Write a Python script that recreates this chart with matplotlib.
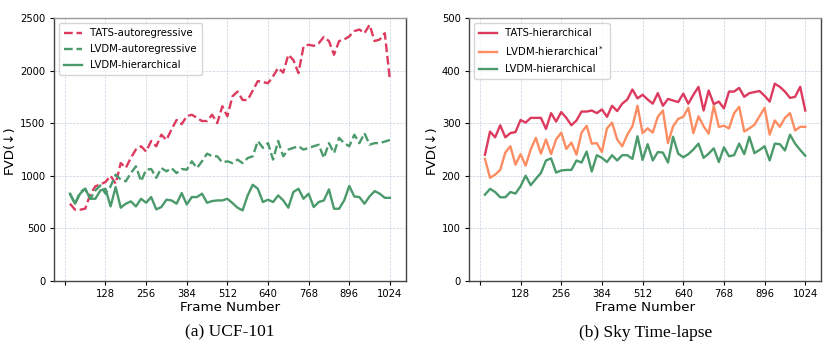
import numpy as np
import matplotlib
matplotlib.use('Agg')
import matplotlib.pyplot as plt

frames = np.arange(16, 1025, 16)  # 64 points

# (a) UCF-101
tats_auto = [734, 677, 677, 686, 822, 899, 918, 940, 1000, 924,
             1120, 1075, 1170, 1250, 1280, 1230, 1330, 1280, 1390, 1340,
             1440, 1530, 1490, 1565, 1580, 1550, 1520, 1520, 1580, 1500,
             1660, 1565, 1755, 1800, 1720, 1720, 1810, 1900, 1890, 1880,
             1945, 2025, 1980, 2150, 2100, 1975, 2230, 2245, 2235, 2260,
             2320, 2280, 2150, 2280, 2295, 2325, 2375, 2390, 2355, 2435,
             2280, 2295, 2355, 1915]
lvdm_auto = [829, 734, 845, 876, 781, 860, 908, 829, 899,
             1010, 963, 947, 1025, 1090, 947, 1057, 1064, 980, 1073,
             1042, 1073, 1025, 1064, 1057, 1137, 1073, 1137, 1210, 1185,
             1185, 1127, 1137, 1120, 1153, 1120, 1168, 1185, 1330, 1265,
             1310, 1153, 1330, 1185, 1248, 1265, 1280, 1248, 1265, 1280,
             1295, 1168, 1310, 1215, 1360, 1310, 1280, 1390, 1310, 1405,
             1295, 1310, 1310, 1325, 1340]
lvdm_hier_ucf = [829, 734, 829, 876, 781, 781, 860, 876, 708, 892,
                 696, 734, 756, 708, 781, 743, 797, 680, 702, 772,
                 765, 734, 835, 727, 797, 797, 829, 743, 759, 765,
                 765, 781, 740, 696, 670, 813, 914, 876, 750, 772,
                 750, 813, 765, 696, 845, 876, 781, 829, 702, 750,
                 765, 870, 686, 686, 765, 902, 803, 797, 734, 803,
                 854, 829, 790, 790]

# (b) Sky Time-lapse
tats_hier = [240, 284, 273, 296, 273, 281, 283, 306, 301, 310,
             310, 310, 289, 319, 303, 321, 310, 296, 305, 322,
             322, 324, 319, 326, 312, 333, 323, 337, 345, 364,
             347, 354, 345, 337, 357, 333, 346, 343, 340, 356,
             337, 354, 369, 324, 362, 336, 341, 328, 360, 360,
             367, 350, 357, 359, 361, 352, 341, 375, 369, 360,
             348, 350, 369, 324]
lvdm_hier_star = [232, 196, 202, 211, 244, 256, 221, 241, 219, 250,
                  272, 242, 269, 241, 269, 282, 251, 263, 240, 282,
                  295, 261, 262, 245, 290, 301, 269, 256, 278, 294,
                  333, 281, 290, 282, 312, 324, 262, 294, 308, 312,
                  329, 281, 313, 294, 280, 333, 293, 295, 290, 319,
                  331, 284, 290, 297, 313, 329, 278, 305, 293, 310,
                  319, 286, 293, 293]
lvdm_hier_sky = [164, 175, 169, 159, 159, 169, 166, 180, 200, 182,
                 194, 205, 229, 233, 206, 210, 211, 211, 229, 225,
                 246, 208, 239, 234, 226, 239, 229, 239, 239, 232,
                 275, 230, 260, 229, 245, 244, 225, 274, 242, 235,
                 241, 250, 261, 234, 242, 252, 226, 254, 237, 239,
                 261, 241, 274, 243, 249, 256, 229, 261, 260, 248,
                 278, 261, 249, 238]

xticks = [0, 128, 256, 384, 512, 640, 768, 896, 1024]
xticklabels = [''] + [str(t) for t in xticks[1:]]

red = '#dc3a5e'
green = '#4b9a6b'
orange = '#fc8d62'

fig = plt.figure(figsize=(8.3, 3.52), dpi=100)
ax1 = fig.add_axes([0.065, 0.202, 0.424, 0.747])
ax2 = fig.add_axes([0.565, 0.202, 0.4245, 0.747])


def style(ax, ymax, ystep):
    ax.set_xticks(xticks)
    ax.set_xticklabels(xticklabels)
    ax.set_ylim(0, ymax)
    ax.set_yticks(np.arange(0, ymax + 1, ystep))
    ax.tick_params(labelsize=7.2, length=3, width=0.8, pad=3)
    ax.grid(True, linestyle='--', linewidth=0.5, color='#c5d2e3')
    ax.set_axisbelow(True)
    for s in ax.spines.values():
        s.set_color('#444444')
        s.set_linewidth(1.0)
    ax.spines['top'].set_color('#999999')
    ax.set_xlabel('Frame Number', fontsize=9.6, labelpad=1)
    ax.set_ylabel('FVD(↓)', fontsize=9.6, labelpad=3)
    ax.legend(loc='upper left', fontsize=7.3, handlelength=1.8,
              labelspacing=0.6, borderpad=0.5)


ax1.plot(frames, tats_auto, '--', color=red, lw=1.7, label='TATS-autoregressive')
ax1.plot(frames, lvdm_auto, '--', color=green, lw=1.7, label='LVDM-autoregressive')
ax1.plot(frames, lvdm_hier_ucf, '-', color=green, lw=1.7, label='LVDM-hierarchical')
style(ax1, 2500, 500)

ax2.plot(frames, tats_hier, '-', color=red, lw=1.7, label='TATS-hierarchical')
ax2.plot(frames, lvdm_hier_star, '-', color=orange, lw=1.7, label=r'LVDM-hierarchical$^*$')
ax2.plot(frames, lvdm_hier_sky, '-', color=green, lw=1.7, label='LVDM-hierarchical')
style(ax2, 500, 100)

fig.text(0.277, 0.055, '(a) UCF-101', ha='center', va='center',
         fontsize=12.5, family='Liberation Serif')
fig.text(0.778, 0.055, '(b) Sky Time-lapse', ha='center', va='center',
         fontsize=12.5, family='Liberation Serif')

fig.savefig('out.png', dpi=100)
